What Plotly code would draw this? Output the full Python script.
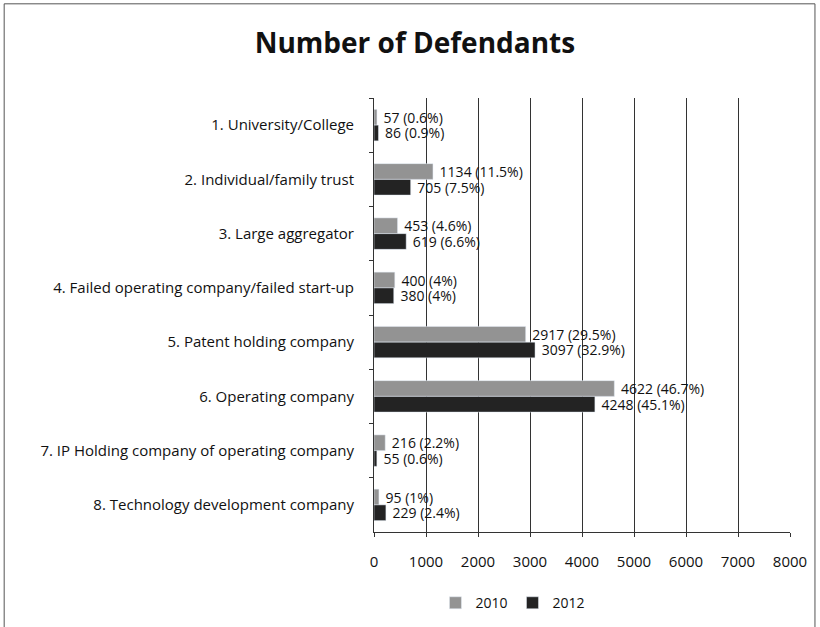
import plotly.graph_objects as go

categories = [
    "1. University/College",
    "2. Individual/family trust",
    "3. Large aggregator",
    "4. Failed operating company/failed start-up",
    "5. Patent holding company",
    "6. Operating company",
    "7. IP Holding company of operating company",
    "8. Technology development company",
]
values_2010 = [57, 1134, 453, 400, 2917, 4622, 216, 95]
pct_2010 = ["0.6", "11.5", "4.6", "4", "29.5", "46.7", "2.2", "1"]
values_2012 = [86, 705, 619, 380, 3097, 4248, 55, 229]
pct_2012 = ["0.9", "7.5", "6.6", "4", "32.9", "45.1", "0.6", "2.4"]
x_ticks = [0, 1000, 2000, 3000, 4000, 5000, 6000, 7000, 8000]

font_family = "Open Sans, Noto Sans, sans-serif"
pad = "\u00a0"

fig = go.Figure()
fig.add_trace(go.Bar(y=categories, x=values_2010, name="2010", orientation="h",
                     marker_color="#939393",
                     text=[f"{pad}{v} ({p}%)" for v, p in zip(values_2010, pct_2010)],
                     textposition="outside", cliponaxis=False, constraintext="none",
                     textfont=dict(size=14, color="#111111")))
fig.add_trace(go.Bar(y=categories, x=values_2012, name="2012", orientation="h",
                     marker_color="#232323",
                     text=[f"{pad}{v} ({p}%)" for v, p in zip(values_2012, pct_2012)],
                     textposition="outside", cliponaxis=False, constraintext="none",
                     textfont=dict(size=14, color="#111111")))

fig.update_layout(
    width=820, height=627,
    margin=dict(l=374, r=30, t=98, b=95),
    paper_bgcolor="white", plot_bgcolor="white",
    font=dict(family=font_family, size=14, color="#111111"),
    barmode="group", bargap=0.42, bargroupgap=0,
    title=dict(text="<b>Number of Defendants</b>", x=0.506, xanchor="center",
               y=0.931, yanchor="middle", font=dict(size=28, color="#111111")),
    legend=dict(orientation="h", x=0.334, xanchor="center", y=0.038, yanchor="middle",
                yref="container", traceorder="normal", itemwidth=30,
                font=dict(size=14)),
    showlegend=True,
)
fig.update_xaxes(range=[0, 8000], tickvals=x_ticks, showgrid=True, gridcolor="#333333",
                 gridwidth=1, zeroline=False, showline=True, linecolor="#333333",
                 ticks="outside", ticklen=4, tickcolor="#333333",
                 ticklabelstandoff=12, tickfont=dict(size=15))
fig.update_yaxes(autorange="reversed", showline=True, linecolor="#333333",
                 ticks="outside", tickson="boundaries", ticklen=4, tickcolor="#333333",
                 ticklabelstandoff=16, tickfont=dict(size=15))

# chart border
fig.add_shape(type="rect", xref="paper", yref="paper",
              x0=-0.889, x1=1.06, y0=-0.23, y1=1.217,
              line=dict(color="#555555", width=1), layer="below")

fig.write_html("out.html", config={"displayModeBar": False},
               post_script="document.body.style.margin='0';")
